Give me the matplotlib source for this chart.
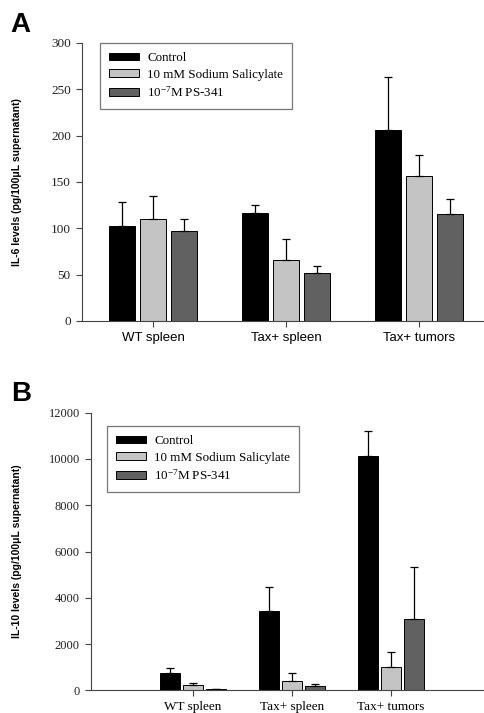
import matplotlib
matplotlib.use("Agg")
import matplotlib.pyplot as plt
import numpy as np

plt.rcParams['mathtext.default'] = 'regular'

# data
groups = ["WT spleen", "Tax+ spleen", "Tax+ tumors"]
series = ["Control", "10 mM Sodium Salicylate", "10$^{-7}$M PS-341"]
colors = ["#000000", "#c4c4c4", "#616161"]

il6_mean = [[103, 116, 206], [110, 66, 156], [97, 52, 115]]
il6_err = [[25, 9, 57], [25, 22, 23], [13, 7, 17]]

il10_mean = [[735, 3430, 10140], [230, 403, 1008], [58, 187, 3068]]
il10_err = [[215, 1050, 1070], [100, 360, 650], [10, 100, 2280]]

il6_ticks = [0, 50, 100, 150, 200, 250, 300]
il10_ticks = [0, 2000, 4000, 6000, 8000, 10000, 12000]

SERIF = "Liberation Serif"
SANS = "Liberation Sans"

fig = plt.figure(figsize=(4.85, 7.13), dpi=100)
axA = fig.add_axes([0.169, 0.5498, 0.831, 0.3899])
axB = fig.add_axes([0.1876, 0.0318, 0.8124, 0.3894])


def draw(ax, means, errs, width, step, ticks, ylabel, xfont, tickfs, legend_anchor):
    x = np.arange(len(groups))
    for i, name in enumerate(series):
        m = np.array(means[i])
        e = np.array(errs[i])
        ax.bar(x + (i - 1) * step, m, width, color=colors[i], edgecolor="black",
               linewidth=0.7, label=name,
               yerr=[np.zeros_like(e), e],
               error_kw=dict(ecolor="black", elinewidth=0.9, capsize=3, capthick=0.9))
    ax.set_yticks(ticks)
    ax.set_ylim(ticks[0], ticks[-1])
    ax.set_xticks(x)
    ax.set_xticklabels(groups, family=xfont, fontsize=9.5)
    for lab in ax.get_yticklabels():
        lab.set_family(SERIF)
        lab.set_fontsize(tickfs)
        lab.set_color("#222222")
    ax.spines["top"].set_visible(False)
    ax.spines["right"].set_visible(False)
    ax.spines["left"].set_color("#444444")
    ax.spines["bottom"].set_color("#444444")
    ax.tick_params(direction="out", length=4.5, width=0.8, color="#444444")
    ax.set_ylabel(ylabel, family=SANS, fontsize=7.5, fontweight="bold")
    leg = ax.legend(loc="upper left", bbox_to_anchor=legend_anchor, borderaxespad=0,
                    fancybox=False, frameon=True, prop=dict(family=SERIF, size=9.4),
                    handlelength=2.3, handleheight=0.55, handletextpad=0.6,
                    labelspacing=0.35, borderpad=0.7)
    leg.get_frame().set_edgecolor("#555555")
    leg.get_frame().set_linewidth(0.9)


draw(axA, il6_mean, il6_err, 0.19, 0.233, il6_ticks,
     "IL-6 levels (pg/100\u03bcL supernatant)", SANS, 9.5, (0.045, 1.0))
axA.set_xlim(-0.534, 2.496)
axA.yaxis.set_label_coords(-0.148, 0.5)

draw(axB, il10_mean, il10_err, 0.2, 0.232, il10_ticks,
     "IL-10 levels (pg/100\u03bcL supernatant)", SERIF, 9, (0.041, 0.952))
axB.set_xlim(-1.03, 2.95)
axB.yaxis.set_label_coords(-0.174, 0.5)

fig.text(0.022, 0.983, "A", family=SANS, fontsize=20, fontweight="bold", va="top")
fig.text(0.022, 0.466, "B", family=SANS, fontsize=20, fontweight="bold", va="top")

fig.savefig("out.png", dpi=100)
